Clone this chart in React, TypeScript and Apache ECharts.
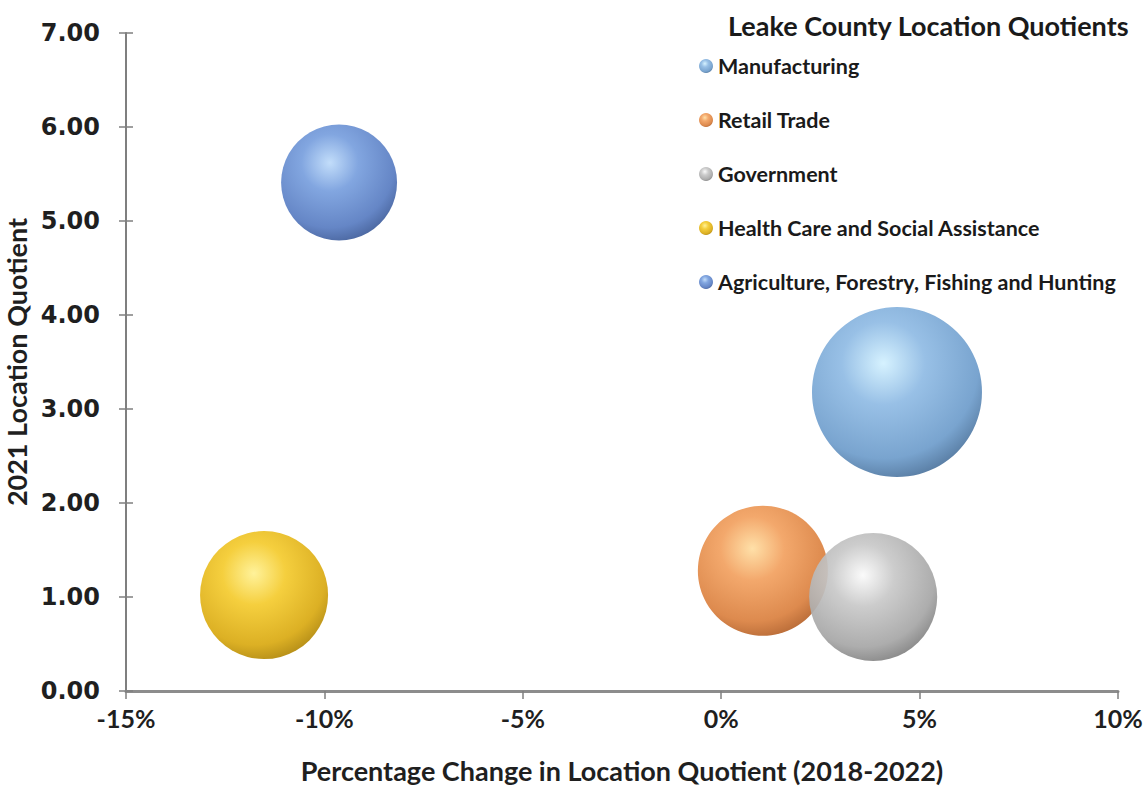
import React, { useEffect, useRef } from "react";
import * as echarts from "echarts";

const categories = [
  "Manufacturing",
  "Retail Trade",
  "Government",
  "Health Care and Social Assistance",
  "Agriculture, Forestry, Fishing and Hunting",
];
const pctChange = [4.43, 1.05, 3.83, -11.52, -9.63];
const lq2021 = [3.18, 1.28, 1.0, 1.02, 5.41];
const bubbleSize = [1000, 585, 567, 567, 465];

const xTicks = [-15, -10, -5, 0, 5, 10];
const yTicks = [0, 1, 2, 3, 4, 5, 6, 7];

const palettes = [
  ["#D6F2FF", "#98C0E6", "#79A4CF", "#587CA2"],
  ["#FFE0A8", "#F3A86C", "#DD8A4E", "#B96C38"],
  ["#FAFAFA", "#C8C8C8", "#A6A6A6", "#7F7F7F"],
  ["#FFF29A", "#F5CF3E", "#DCB024", "#B58E18"],
  ["#C2DDFA", "#82A6E0", "#6586C6", "#4B67A0"],
];

const sphere = (p: string[]) => ({
  type: "radial",
  x: 0.42,
  y: 0.33,
  r: 0.7,
  colorStops: [
    { offset: 0, color: p[0] },
    { offset: 0.35, color: p[1] },
    { offset: 0.8, color: p[2] },
    { offset: 1, color: p[3] },
  ],
});

export default function App() {
  const ref = useRef<HTMLDivElement>(null);
  useEffect(() => {
    if (!ref.current) return;
    const chart = echarts.init(ref.current, undefined, { renderer: "svg" });
    const k = 170 / Math.sqrt(1000);
    const series = categories.map((name, i) => ({
      name,
      type: "scatter",
      data: [[pctChange[i], lq2021[i], bubbleSize[i]]],
      symbolSize: (d: number[]) => k * Math.sqrt(d[2]),
      itemStyle: { color: sphere(palettes[i]), opacity: i === 2 ? 0.92 : 1 },
      emphasis: { disabled: true },
    }));
    const tickStyle = { color: "#7f7f7f", width: 1.5 };
    chart.setOption({
      animation: false,
      backgroundColor: "#ffffff",
      title: {
        text: "Leake County Location Quotients",
        left: 723,
        top: 7,
        textStyle: { fontFamily: "Lato", fontWeight: "bold", fontSize: 27, color: "#1a1a1a" },
      },
      legend: {
        orient: "vertical",
        left: 694,
        top: 50,
        icon: "circle",
        itemWidth: 14,
        itemHeight: 14,
        itemGap: 32,
        textStyle: { fontFamily: "Lato", fontWeight: "bold", fontSize: 21.5, lineHeight: 22, color: "#1a1a1a" },
        data: categories,
      },
      grid: { left: 126, right: 26, top: 33, bottom: 97, containLabel: false, outerBoundsMode: "none" },
      xAxis: {
        type: "value",
        min: -15,
        max: 10,
        interval: 5,
        name: "Percentage Change in Location Quotient (2018-2022)",
        nameLocation: "middle",
        nameGap: 66,
        nameTextStyle: { fontFamily: "Lato", fontWeight: "bold", fontSize: 27, color: "#1f1f1f" },
        axisLine: { show: true, onZero: false, lineStyle: { color: "#8c8c8c", width: 3 } },
        axisTick: { show: true, length: 8, lineStyle: tickStyle },
        splitLine: { show: false },
        axisLabel: {
          fontFamily: "Lato",
          fontWeight: "bold",
          fontSize: 25,
          color: "#1f1f1f",
          margin: 14,
          formatter: (v: number) => (xTicks.includes(v) ? `${v}%` : ""),
        },
      },
      yAxis: [
        {
          type: "value",
          min: 0,
          max: 7,
          interval: 1,
          name: "2021 Location Quotient",
          nameLocation: "middle",
          nameGap: 86,
          nameTextStyle: { fontFamily: "Lato", fontWeight: "bold", fontSize: 27, color: "#1f1f1f" },
          axisLine: { show: true, onZero: false, lineStyle: { color: "#7f7f7f", width: 2 } },
          axisTick: { show: true, length: 7, lineStyle: tickStyle },
          splitLine: { show: false },
          axisLabel: {
            fontFamily: "DejaVu Sans",
            fontWeight: "bold",
            fontSize: 24,
            color: "#1f1f1f",
            margin: 26,
            formatter: (v: number) => (yTicks.includes(v) ? v.toFixed(2) : ""),
          },
        },
        {
          type: "value",
          min: 0,
          max: 7,
          interval: 1,
          position: "left",
          axisLine: { show: false, onZero: false },
          axisTick: { show: true, inside: true, length: 7, lineStyle: tickStyle },
          axisLabel: { show: false },
          splitLine: { show: false },
        },
      ],
      series,
    });
    return () => chart.dispose();
  }, []);
  return (
    <div
      ref={ref}
      style={{ position: "absolute", left: 0, top: 0, width: 1144, height: 788 }}
    />
  );
}
